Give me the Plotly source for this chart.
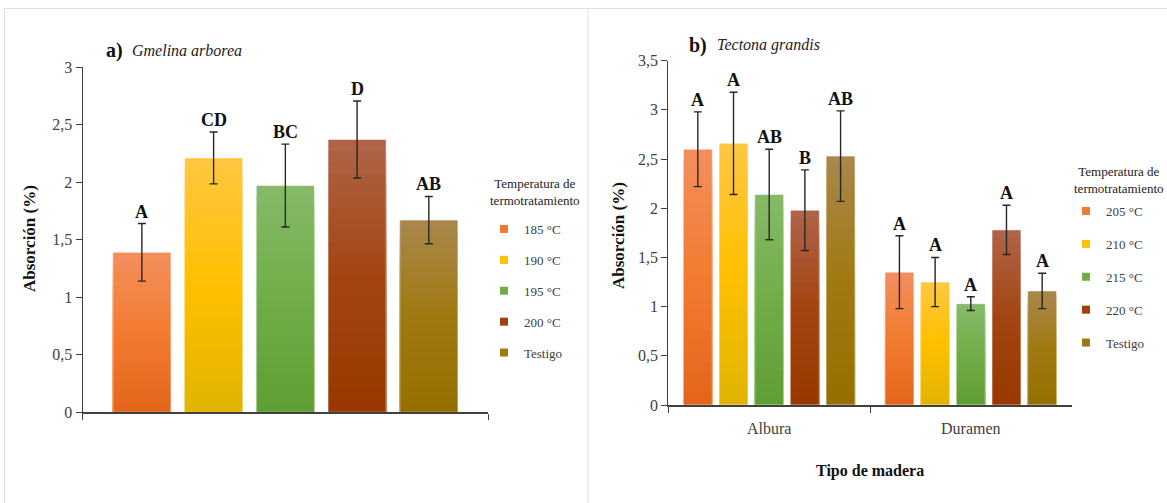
import plotly.graph_objects as go

W, H = 1167, 503

# ---------------- data ----------------
series_a = ["185 °C", "190 °C", "195 °C", "200 °C", "Testigo"]
series_b = ["205 °C", "210 °C", "215 °C", "220 °C", "Testigo"]

cats_a = ["Gmelina arborea"]
cats_b = ["Albura", "Duramen"]

vals_a = [1.39, 2.21, 1.97, 2.37, 1.67]
err_a = [0.25, 0.225, 0.36, 0.335, 0.205]
letters_a = ["A", "CD", "BC", "D", "AB"]

vals_b_albura = [2.60, 2.66, 2.14, 1.98, 2.53]
err_b_albura = [0.38, 0.52, 0.46, 0.41, 0.46]
letters_b_albura = ["A", "A", "AB", "B", "AB"]

vals_b_duramen = [1.35, 1.25, 1.03, 1.78, 1.16]
err_b_duramen = [0.37, 0.25, 0.07, 0.25, 0.18]
letters_b_duramen = ["A", "A", "A", "A", "A"]

yticks_a = [0, 0.5, 1, 1.5, 2, 2.5, 3]
yticklabels_a = ["0", "0,5", "1", "1,5", "2", "2,5", "3"]
yticks_b = [0, 0.5, 1, 1.5, 2, 2.5, 3, 3.5]
yticklabels_b = ["0", "0,5", "1", "1,5", "2", "2,5", "3", "3,5"]

# ---------------- style ----------------
# (top, middle, bottom) colours of each series' vertical gradient
grad_colors = [
    ("#F28F5E", "#F27B2F", "#E3651A"),
    ("#FFC742", "#FFC000", "#E0B300"),
    ("#86BA68", "#70AD47", "#5F9E33"),
    ("#AF644A", "#A44511", "#993800"),
    ("#A9874C", "#A07A12", "#957000"),
]
legend_colors = ["#F07A30", "#FFC000", "#70AD47", "#A0420C", "#9E7810"]

FONT = "Liberation Serif"
AX = "#404040"
N_BANDS = 24
GROUP = 0.885
SLOT = GROUP / 5
BARW = SLOT * 0.81


def hex2rgb(h):
    h = h.lstrip("#")
    return tuple(int(h[i:i + 2], 16) for i in (0, 2, 4))


def mix(c1, c2, t):
    a, b = hex2rgb(c1), hex2rgb(c2)
    return "rgb(%d,%d,%d)" % tuple(round(a[i] + (b[i] - a[i]) * t) for i in range(3))


def grad(cols, t):
    top, mid, bot = cols
    if t < 0.5:
        return mix(top, mid, t / 0.5)
    return mix(mid, bot, (t - 0.5) / 0.5)


def px(x):
    return x / W


def py(y):
    return 1 - y / H


fig = go.Figure()
annotations = []


def add_panel(cats, names, values_by_series, errs_by_series, letters_by_series,
              xa, ya, legend_name):
    for i, name in enumerate(names):
        vals = values_by_series[i]
        errs = errs_by_series[i]
        off = -GROUP / 2 + i * SLOT + (SLOT - BARW) / 2
        # gradient bands (each bar is filled light at top -> dark at bottom)
        for k in range(N_BANDS):
            frac = 1 - k / N_BANDS
            fig.add_trace(go.Bar(
                x=cats, y=[v * frac for v in vals], width=BARW, offset=off,
                marker=dict(color=grad(grad_colors[i], (k + 0.5) / N_BANDS), line=dict(width=0)),
                xaxis=xa, yaxis=ya, showlegend=False, legendgroup=legend_name + name,
                hoverinfo="skip"))
        # full bar carrying outline + error bars
        fig.add_trace(go.Bar(
            x=cats, y=vals, width=BARW, offset=off, name=name,
            marker=dict(color="rgba(0,0,0,0)", line=dict(color="rgba(255,255,255,0.55)", width=1)),
            error_y=dict(type="data", array=errs, color="#262626", thickness=1.4, width=4),
            xaxis=xa, yaxis=ya, showlegend=False, legendgroup=legend_name + name))
        # legend entry
        fig.add_trace(go.Scatter(
            x=[None], y=[None], mode="markers", name=name,
            marker=dict(symbol="square", size=8, color=legend_colors[i]),
            xaxis=xa, yaxis=ya, legend=legend_name, legendgroup=legend_name + name))
        for ci, (v, e) in enumerate(zip(vals, errs)):
            annotations.append(dict(
                x=ci + off + BARW / 2, y=v + e, xref=xa, yref=ya,
                text=letters_by_series[i][ci], showarrow=False, yanchor="bottom", yshift=0,
                font=dict(family=FONT, size=18, color="#111111", weight="bold")))


add_panel(cats_a, series_a,
          [[v] for v in vals_a], [[e] for e in err_a], [[l] for l in letters_a],
          "x", "y", "legend")
add_panel(cats_b, series_b,
          [[a, d] for a, d in zip(vals_b_albura, vals_b_duramen)],
          [[a, d] for a, d in zip(err_b_albura, err_b_duramen)],
          [[a, d] for a, d in zip(letters_b_albura, letters_b_duramen)],
          "x2", "y2", "legend2")

dom_xa = [px(82.7), px(488)]
dom_ya = [py(412.3), py(67)]
dom_xb = [px(668.4), px(1071.6)]
dom_yb = [py(405), py(60.7)]

tickfont = dict(family=FONT, size=16, color=AX)

common_x = dict(type="category", tickson="boundaries", ticks="outside", ticklen=6,
                tickcolor=AX, tickwidth=1.3, showline=True, linecolor=AX, linewidth=1.6,
                showgrid=False, zeroline=False, fixedrange=True, tickfont=tickfont,
                automargin=False)
common_y = dict(ticks="outside", ticklen=6, tickcolor=AX, tickwidth=1.3, showline=True,
                linecolor=AX, linewidth=1.3, showgrid=False, zeroline=False,
                fixedrange=True, tickfont=tickfont, tickmode="array", automargin=False)
inner = dict(ticks="inside", ticklen=6, tickcolor=AX, tickwidth=1.3, showline=False,
             showgrid=False, zeroline=False, showticklabels=False, fixedrange=True,
             tickmode="array", automargin=False)

fig.update_layout(
    width=W, height=H, margin=dict(l=0, r=0, t=0, b=0, autoexpand=False),
    paper_bgcolor="white", plot_bgcolor="white", barmode="overlay",
    showlegend=True,
    xaxis=dict(common_x, domain=dom_xa, range=[-0.5, 0.5], categoryarray=cats_a,
               categoryorder="array", showticklabels=False, anchor="y"),
    yaxis=dict(common_y, domain=dom_ya, range=[0, 3], tickvals=yticks_a,
               ticktext=yticklabels_a, anchor="x"),
    xaxis2=dict(common_x, domain=dom_xb, range=[-0.5, 1.5], categoryarray=cats_b,
                categoryorder="array", anchor="y2", ticklabelstandoff=8),
    yaxis2=dict(common_y, domain=dom_yb, range=[0, 3.5], tickvals=yticks_b,
                ticktext=yticklabels_b, anchor="x2"),
    # overlay axes giving the "cross" tick marks
    xaxis3=dict(inner, overlaying="x", anchor="y", range=[-0.5, 0.5],
                tickvals=[-0.5, 0.5]),
    xaxis4=dict(inner, overlaying="x2", anchor="y2", range=[-0.5, 1.5],
                tickvals=[-0.5, 0.5, 1.5]),
    yaxis3=dict(inner, overlaying="y", anchor="x", range=[0, 3], tickvals=yticks_a),
    yaxis4=dict(inner, overlaying="y2", anchor="x2", range=[0, 3.5], tickvals=yticks_b),
    legend=dict(x=px(484), y=py(214), xanchor="left", yanchor="top",
                bgcolor="rgba(0,0,0,0)", tracegroupgap=11, itemwidth=30,
                font=dict(family=FONT, size=13, color=AX)),
    legend2=dict(x=px(1066), y=py(196), xanchor="left", yanchor="top",
                 bgcolor="rgba(0,0,0,0)", tracegroupgap=13, itemwidth=30,
                 font=dict(family=FONT, size=13, color=AX)),
)

# titles, axis titles, legend titles
annotations += [
    dict(x=px(104), y=py(51), xref="paper", yref="paper", text="<b>a)</b>",
         showarrow=False, xanchor="left", yanchor="middle",
         font=dict(family=FONT, size=20, color="#111111")),
    dict(x=px(130), y=py(51), xref="paper", yref="paper", text="<i>Gmelina arborea</i>",
         showarrow=False, xanchor="left", yanchor="middle",
         font=dict(family=FONT, size=16, color="#222222")),
    dict(x=px(687), y=py(45), xref="paper", yref="paper", text="<b>b)</b>",
         showarrow=False, xanchor="left", yanchor="middle",
         font=dict(family=FONT, size=20, color="#111111")),
    dict(x=px(715), y=py(45), xref="paper", yref="paper", text="<i>Tectona grandis</i>",
         showarrow=False, xanchor="left", yanchor="middle",
         font=dict(family=FONT, size=16, color="#222222")),
    dict(x=px(30), y=py(239), xref="paper", yref="paper", text="<b>Absorción (%)</b>",
         showarrow=False, textangle=-90, xanchor="center", yanchor="middle",
         font=dict(family=FONT, size=17, color="#111111")),
    dict(x=px(618), y=py(236), xref="paper", yref="paper", text="<b>Absorción (%)</b>",
         showarrow=False, textangle=-90, xanchor="center", yanchor="middle",
         font=dict(family=FONT, size=17, color="#111111")),
    dict(x=px(870), y=py(471), xref="paper", yref="paper", text="<b>Tipo de madera</b>",
         showarrow=False, xanchor="center", yanchor="middle",
         font=dict(family=FONT, size=16, color="#111111")),
    dict(x=px(535), y=py(192), xref="paper", yref="paper",
         text="Temperatura de<br>termotratamiento", showarrow=False,
         xanchor="center", yanchor="middle",
         font=dict(family=FONT, size=13, color="#222222")),
    dict(x=px(1119), y=py(180), xref="paper", yref="paper",
         text="Temperatura de<br>termotratamiento", showarrow=False,
         xanchor="center", yanchor="middle",
         font=dict(family=FONT, size=13, color="#222222")),
]
fig.update_layout(annotations=annotations)

# panel frame lines
border = dict(color="#DCDFE4", width=1)
fig.update_layout(shapes=[
    dict(type="line", xref="paper", yref="paper", x0=px(4), x1=1, y0=py(8.5), y1=py(8.5), line=border),
    dict(type="line", xref="paper", yref="paper", x0=px(4.5), x1=px(4.5), y0=py(8.5), y1=0, line=border),
    dict(type="line", xref="paper", yref="paper", x0=px(588), x1=px(588), y0=py(8.5), y1=0, line=border),
])

fig.write_html(
    "out.html",
    config={"displayModeBar": False},
    post_script="document.body.style.margin='0';document.body.style.overflow='hidden';",
)
